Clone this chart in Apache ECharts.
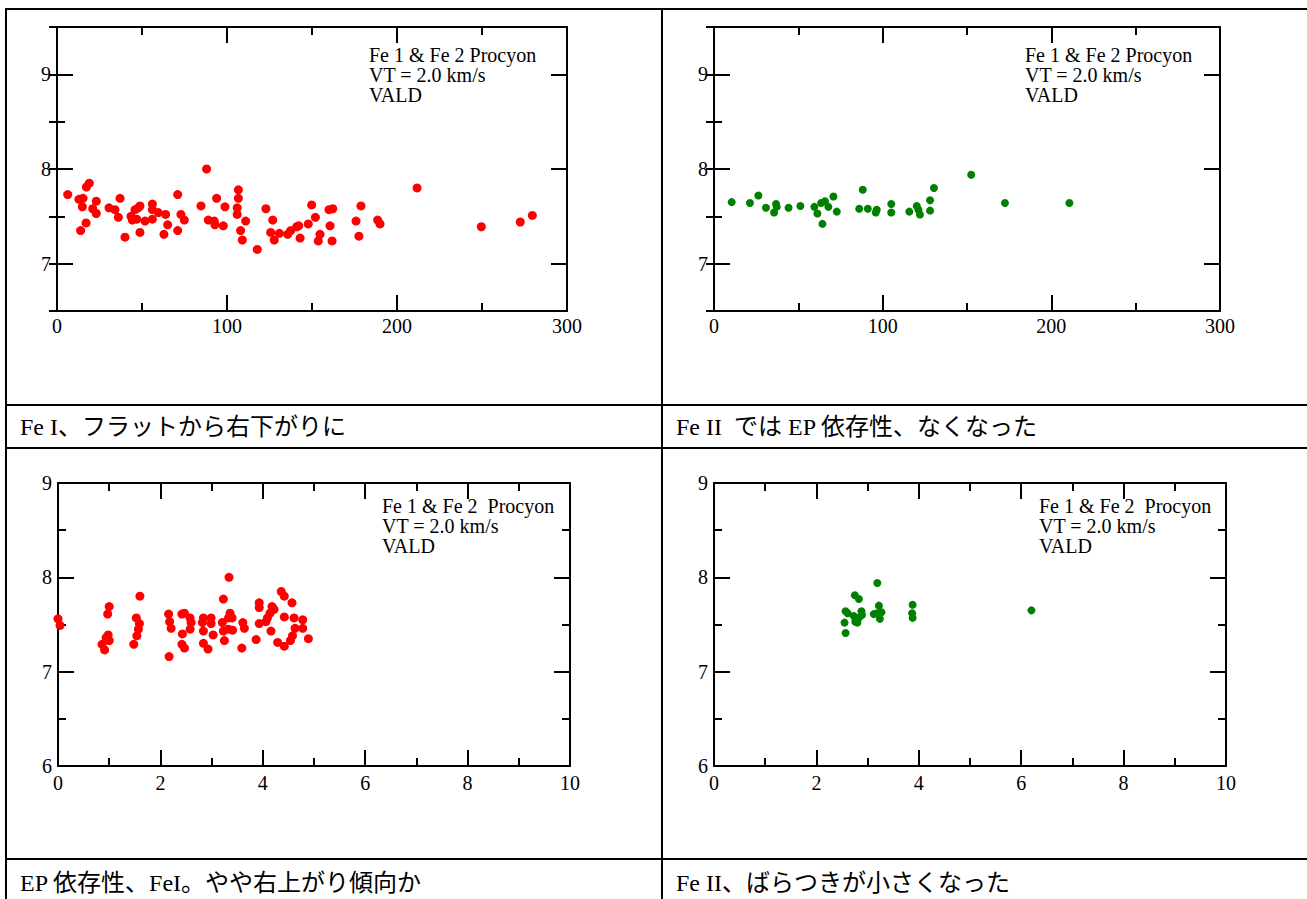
<!DOCTYPE html>
<html>
<head>
<meta charset="utf-8">
<script src="https://cdn.jsdelivr.net/npm/echarts@6/dist/echarts.min.js"></script>
<style>
html,body{margin:0;padding:0;background:#fff;}
#chart{width:1307px;height:899px;}
</style>
</head>
<body>
<div id="chart"></div>
<script>
// ---- data ----
// Top-left: Fe I, abundance vs equivalent width
const fe1EW = [
  [6.3,7.73],[12.9,7.68],[15.3,7.69],[14.9,7.60],[17.3,7.81],[19.0,7.85],[23.1,7.66],[21.0,7.58],[23.1,7.53],[17.1,7.43],
  [13.9,7.35],[30.6,7.59],[34.1,7.57],[37.1,7.69],[36.1,7.49],[40.0,7.28],[43.5,7.50],[45.9,7.57],[47.8,7.59],[48.8,7.61],
  [44.3,7.46],[46.9,7.47],[48.8,7.33],[51.8,7.45],[56.1,7.63],[56.1,7.57],[59.6,7.54],[56.1,7.47],[63.9,7.52],[65.1,7.41],
  [62.9,7.31],[71.0,7.73],[72.9,7.52],[74.9,7.46],[71.0,7.35],[84.7,7.61],[88.0,8.00],[89.0,7.46],[92.5,7.45],[93.9,7.69],
  [92.9,7.41],[98.8,7.60],[97.8,7.40],[106.7,7.78],[106.7,7.69],[106.0,7.59],[106.0,7.52],[111.0,7.45],[108.0,7.35],[109.0,7.25],
  [117.8,7.15],[122.9,7.58],[126.9,7.46],[125.7,7.33],[127.8,7.25],[130.8,7.32],[135.7,7.31],[137.5,7.35],[141.0,7.39],[142.2,7.40],
  [143.0,7.27],[147.8,7.42],[149.8,7.62],[152.0,7.49],[154.7,7.31],[153.7,7.24],[160.0,7.57],[162.2,7.58],[160.6,7.40],[161.8,7.24],
  [175.9,7.45],[178.8,7.61],[177.6,7.29],[188.6,7.46],[190.0,7.42],[211.8,7.80],[249.6,7.39],[272.5,7.44],[279.6,7.51]
];
// Top-right: Fe II, abundance vs equivalent width
const fe2EW = [
  [10.5,7.65],[21.3,7.64],[26.3,7.72],[30.8,7.59],[36.8,7.63],[35.6,7.54],[37.2,7.60],[44.2,7.59],[51.2,7.61],[59.5,7.60],
  [61.3,7.53],[64.3,7.42],[63.5,7.64],[65.8,7.66],[67.8,7.60],[70.8,7.71],[72.8,7.55],[88.2,7.78],[86.1,7.58],[91.2,7.58],
  [96.5,7.57],[95.9,7.54],[105.1,7.63],[105.1,7.54],[115.8,7.55],[120.2,7.61],[122.1,7.52],[121.2,7.57],[128.1,7.67],[128.1,7.56],
  [130.4,7.80],[152.5,7.94],[172.5,7.64],[210.7,7.64]
];
// Bottom-left: Fe I, abundance vs excitation potential
const fe1EP = [
  [0.0,7.56],[0.04,7.49],[1.0,7.69],[0.97,7.61],[0.98,7.39],[1.0,7.33],[0.86,7.29],[0.91,7.23],[0.94,7.36],[1.6,7.80],
  [1.53,7.57],[1.59,7.51],[1.57,7.45],[1.54,7.38],[1.48,7.29],[2.16,7.61],[2.18,7.53],[2.21,7.46],[2.17,7.16],[2.42,7.61],
  [2.47,7.62],[2.58,7.57],[2.6,7.52],[2.58,7.45],[2.43,7.40],[2.42,7.29],[2.47,7.25],[2.84,7.57],[2.82,7.52],[2.84,7.43],
  [2.99,7.57],[2.99,7.51],[3.03,7.39],[2.84,7.30],[2.93,7.24],[3.21,7.52],[3.23,7.43],[3.25,7.33],[3.23,7.77],[3.34,8.00],
  [3.36,7.62],[3.33,7.57],[3.40,7.57],[3.41,7.44],[3.33,7.45],[3.61,7.52],[3.64,7.46],[3.59,7.25],[3.93,7.73],[3.93,7.68],
  [3.93,7.51],[3.87,7.34],[4.18,7.69],[4.22,7.66],[4.14,7.62],[4.09,7.57],[4.06,7.53],[4.16,7.43],[4.29,7.31],[4.36,7.85],
  [4.42,7.80],[4.42,7.58],[4.42,7.27],[4.57,7.73],[4.61,7.57],[4.63,7.46],[4.58,7.38],[4.54,7.33],[4.78,7.55],[4.78,7.46],
  [4.89,7.35]
];
// Bottom-right: Fe II, abundance vs excitation potential
const fe2EP = [
  [3.19,7.94],[2.75,7.81],[2.83,7.77],[2.57,7.64],[2.61,7.62],[2.55,7.52],[2.57,7.41],[2.73,7.59],[2.76,7.53],[2.83,7.57],
  [2.88,7.64],[2.89,7.60],[2.80,7.52],[3.22,7.70],[3.19,7.62],[3.27,7.63],[3.24,7.56],[3.12,7.61],[3.88,7.71],[3.87,7.62],
  [3.88,7.57],[6.20,7.65]
];

const annotationLines = ['Fe 1 & Fe 2 Procyon', 'VT = 2.0 km/s', 'VALD'];
const annotationLinesB = ['Fe 1 & Fe 2  Procyon', 'VT = 2.0 km/s', 'VALD'];
const captions = [
  'Fe I、フラットから右下がりに',
  'Fe II  では EP 依存性、なくなった',
  'EP 依存性、FeI。やや右上がり傾向か',
  'Fe II、ばらつきが小さくなった'
];

// ---- layout ----
const SERIF = "'Liberation Serif', 'Times New Roman', 'Noto Sans CJK JP', serif";
const grids = [
  {left:57, top:27, width:510, height:284},
  {left:714, top:27, width:506, height:284},
  {left:58, top:483, width:512, height:283},
  {left:714, top:483, width:512, height:283}
];
const black = '#000';
const tickStyle = {color:black, width:2};
const labelBase = {color:black, fontFamily:SERIF, fontSize:20};

const xAxis = [], yAxis = [], series = [];

function addX(gi, min, max, interval, margin){
  const common = {type:'value', gridIndex:gi, min:min, max:max, interval:interval,
    axisLine:{show:true, onZero:false, lineStyle:{color:black, width:2}},
    axisTick:{show:true, inside:true, length:16, lineStyle:tickStyle},
    minorTick:{show:true, splitNumber:2, length:8, lineStyle:tickStyle},
    splitLine:{show:false}, minorSplitLine:{show:false}};
  const bottom = Object.assign({}, common, {position:'bottom',
    axisLabel:Object.assign({show:true, margin:margin, showMinLabel:true, showMaxLabel:true}, labelBase)});
  const top = Object.assign({}, common, {position:'top', axisLabel:{show:false}});
  xAxis.push(bottom); const xi = xAxis.length-1;
  xAxis.push(top);
  return xi;
}

function addYHalf(gi){
  // range 6.5 .. 9.5, labels at integers; major ticks at integers, minor at halves
  let first = -1;
  ['left','right'].forEach(function(pos){
    const major = {type:'value', gridIndex:gi, position:pos, min:6.5, max:9.5, splitNumber:3,
      axisLine:{show:true, onZero:false, lineStyle:{color:black, width:2}},
      axisTick:{show:true, inside:true, length:16, lineStyle:tickStyle},
      axisLabel: pos==='left' ? Object.assign({show:true, margin:6,
        formatter:function(v){ return Number.isInteger(v) ? String(v) : ''; }}, labelBase) : {show:false},
      splitLine:{show:false}};
    const minor = {type:'value', gridIndex:gi, position:pos, min:6.5, max:9.5, interval:0.5,
      axisLine:{show:false},
      axisTick:{show:true, inside:true, length:8, lineStyle:tickStyle},
      axisLabel:{show:false}, splitLine:{show:false}};
    yAxis.push(major); if(first<0) first = yAxis.length-1;
    yAxis.push(minor);
  });
  return first;
}

function addYFull(gi){
  let first = -1;
  ['left','right'].forEach(function(pos){
    const ax = {type:'value', gridIndex:gi, position:pos, min:6, max:9, interval:1,
      axisLine:{show:true, onZero:false, lineStyle:{color:black, width:2}},
      axisTick:{show:true, inside:true, length:16, lineStyle:tickStyle},
      minorTick:{show:true, splitNumber:2, length:8, lineStyle:tickStyle},
      axisLabel: pos==='left' ? Object.assign({show:true, margin:6, showMinLabel:true, showMaxLabel:true}, labelBase) : {show:false},
      splitLine:{show:false}, minorSplitLine:{show:false}};
    yAxis.push(ax); if(first<0) first = yAxis.length-1;
  });
  return first;
}

function addSeries(name, data, xi, yi, color, size){
  series.push({type:'scatter', name:name, data:data, xAxisIndex:xi, yAxisIndex:yi,
    symbol:'circle', symbolSize:size, itemStyle:{color:color, opacity:1}, silent:true});
}

let xi, yi;
xi = addX(0, 0, 300, 100, 5); yi = addYHalf(0); addSeries('Fe I EW', fe1EW, xi, yi, '#ff0000', 9);
xi = addX(1, 0, 300, 100, 5); yi = addYHalf(1); addSeries('Fe II EW', fe2EW, xi, yi, '#008000', 8);
xi = addX(2, 0, 10, 2, 7); yi = addYFull(2); addSeries('Fe I EP', fe1EP, xi, yi, '#ff0000', 9);
xi = addX(3, 0, 10, 2, 7); yi = addYFull(3); addSeries('Fe II EP', fe2EP, xi, yi, '#008000', 8);

// ---- table lines, captions, annotations ----
const graphic = [];
function hline(y){ graphic.push({type:'line', shape:{x1:5, y1:y, x2:1307, y2:y}, style:{stroke:black, lineWidth:2}, silent:true}); }
function vline(x){ graphic.push({type:'line', shape:{x1:x, y1:8, x2:x, y2:899}, style:{stroke:black, lineWidth:2}, silent:true}); }
hline(9); hline(405); hline(448); hline(859);
vline(6); vline(662);

const capPos = [[20,427],[676,427],[20,883],[676,883]];
captions.forEach(function(c,i){
  graphic.push({type:'text', x:capPos[i][0], y:capPos[i][1], silent:true,
    style:{text:c, fill:black, fontFamily:SERIF, fontSize:24, verticalAlign:'middle', align:'left'}});
});

const annPos = [[369,45],[1025,45],[382,496],[1039,496]];
annPos.forEach(function(p,i){
  const lines = i<2 ? annotationLines : annotationLinesB;
  graphic.push({type:'text', x:p[0], y:p[1], silent:true,
    style:{text:lines.join('\n'), fill:black, fontFamily:SERIF, fontSize:20, lineHeight:20, verticalAlign:'top', align:'left'}});
});

const chart = echarts.init(document.getElementById('chart'), null, {renderer:'svg', width:1307, height:899});
chart.setOption({
  animation:false,
  backgroundColor:'#fff',
  grid:grids.map(function(g){ return Object.assign({containLabel:false, show:false}, g); }),
  xAxis:xAxis,
  yAxis:yAxis,
  series:series,
  graphic:graphic
});
</script>
</body>
</html>
